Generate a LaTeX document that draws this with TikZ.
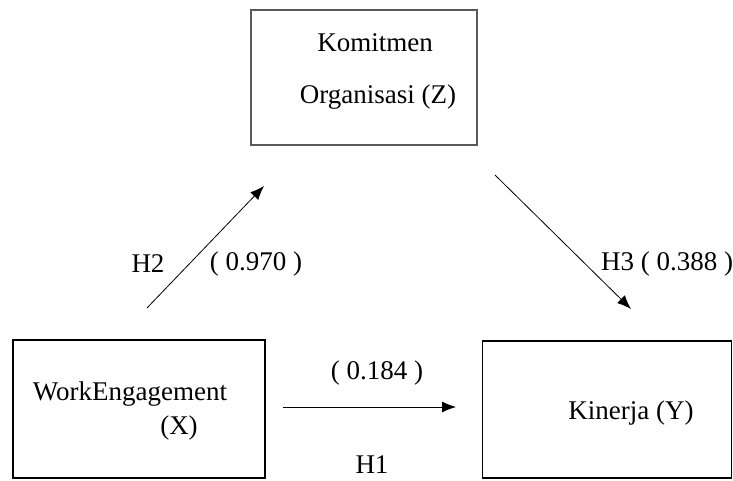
\documentclass[tikz,border=0pt]{standalone}
\usepackage{fontspec}
\setmainfont{Liberation Serif}
\usetikzlibrary{arrows.meta}

\begin{document}
\begin{tikzpicture}[x=1pt,y=1pt,yscale=-1,xscale=1,
	varbox/.style={draw, line width=1.2pt, inner sep=0pt},
	lbl/.style={inner sep=0.75pt, font=\fontsize{27}{32}\selectfont},
	path/.style={line width=0.8pt, -{Latex[length=14pt,width=11pt]}}]
	\useasboundingbox (0,0) rectangle (733,481);
	
	%Shape: Rectangle [id:boxZ]
	\node[varbox, draw=black!65, minimum width=226, minimum height=135] (boxZ) at (364,77.5) {};
	%Shape: Rectangle [id:boxX]
	\node[varbox, minimum width=252, minimum height=138] (boxX) at (139,409) {};
	%Shape: Rectangle [id:boxY]
	\node[varbox, minimum width=249, minimum height=137] (boxY) at (607,409.5) {};
	
	% Arrow ends
	\coordinate (h1s) at (283,407);
	\coordinate (h1e) at (456,407);
	\coordinate (h2s) at (147,308);
	\coordinate (h2e) at (264,186);
	\coordinate (h3s) at (495,175);
	\coordinate (h3e) at (631,309);
	
	%Straight Lines [id:H1]
	\draw[path] (h1s) -- (h1e);
	%Straight Lines [id:H2]
	\draw[path] (h2s) -- (h2e);
	%Straight Lines [id:H3]
	\draw[path] (h3s) -- (h3e);
	
	% Text Node
	\node[lbl] (txtZa) at (375,43) {Komitmen};
	% Text Node
	\node[lbl] (txtZb) at (378,97) {Organisasi (Z)};
	% Text Node
	\node[lbl] (txtXa) at (130,394) {WorkEngagement};
	% Text Node
	\node[lbl] (txtXb) at (179,428) {(X)};
	% Text Node
	\node[lbl] (txtY) at (631,413) {Kinerja (Y)};
	% Text Node
	\node[lbl] (valH1) at (377,373) {( 0.184 )};
	% Text Node
	\node[lbl] (labH1) at (372,465) {H1};
	% Text Node
	\node[lbl] (labH2) at (148,264) {H2};
	% Text Node
	\node[lbl] (valH2) at (256,264) {( 0.970 )};
	% Text Node
	\node[lbl] (labH3) at (667,264) {H3 ( 0.388 )};
	
\end{tikzpicture}
\end{document}
